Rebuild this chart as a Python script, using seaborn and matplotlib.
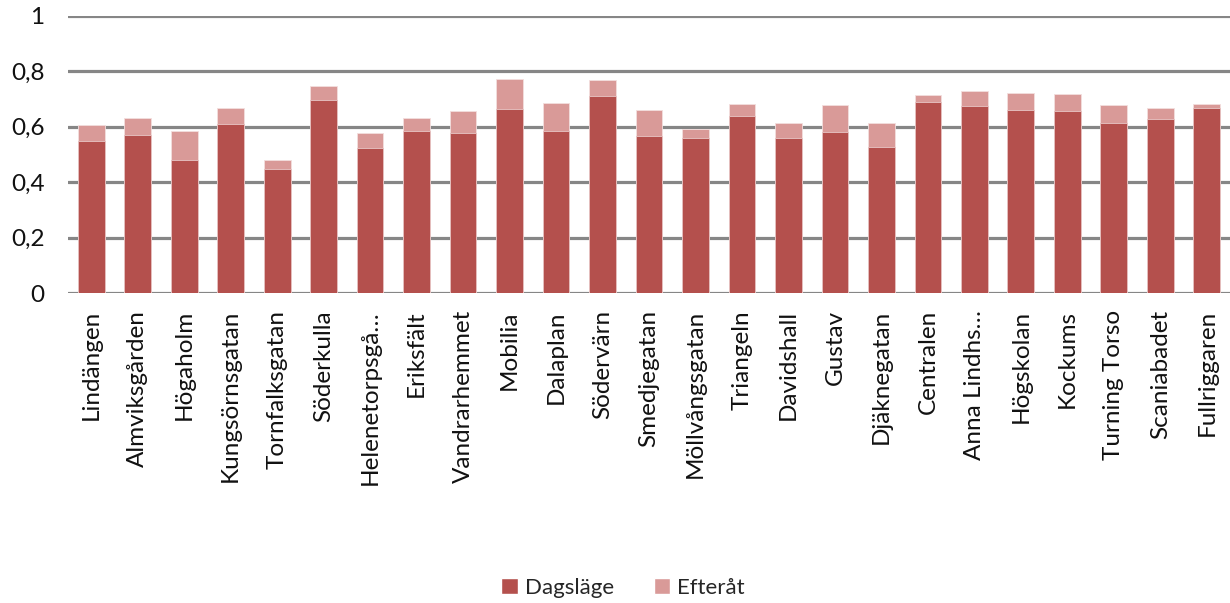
import matplotlib
matplotlib.use("Agg")
import matplotlib.pyplot as plt
import seaborn as sns
import pandas as pd
from matplotlib.patches import Patch
from matplotlib.ticker import FuncFormatter

stations = [
    "Lindängen", "Almviksgården", "Högaholm", "Kungsörnsgatan", "Tornfalksgatan",
    "Söderkulla", "Helenetorpsgå…", "Eriksfält", "Vandrarhemmet", "Mobilia",
    "Dalaplan", "Södervärn", "Smedjegatan", "Möllvångsgatan", "Triangeln",
    "Davidshall", "Gustav", "Djäknegatan", "Centralen", "Anna Lindhs…",
    "Högskolan", "Kockums", "Turning Torso", "Scaniabadet", "Fullriggaren",
]
dagslage = [
    0.549, 0.571, 0.481, 0.610, 0.449, 0.697, 0.523, 0.586, 0.579, 0.665,
    0.585, 0.711, 0.568, 0.558, 0.638, 0.559, 0.581, 0.527, 0.689, 0.675,
    0.661, 0.658, 0.613, 0.627, 0.667,
]
efterat = [
    0.056, 0.059, 0.105, 0.056, 0.031, 0.051, 0.054, 0.044, 0.079, 0.106,
    0.099, 0.057, 0.093, 0.034, 0.044, 0.053, 0.098, 0.085, 0.024, 0.055,
    0.059, 0.059, 0.066, 0.041, 0.015,
]
series_names = ["Dagsläge", "Efteråt"]

dark = "#B4504D"
light = "#D99A98"

df = pd.DataFrame({
    "station": stations,
    "dagslage": dagslage,
    "total": [a + b for a, b in zip(dagslage, efterat)],
})

sns.set_style("white")
plt.rcParams["font.family"] = ["Lato", "DejaVu Sans"]

fig = plt.figure(figsize=(12.30, 6.03), dpi=100)
ax = fig.add_axes([0.0553, 0.5135, 0.9447, 0.4605])

# stacked bars: full height in the light shade, base segment over it
sns.barplot(data=df, x="station", y="total", color=light, width=0.575,
            saturation=1, ax=ax, zorder=3, edgecolor="#f3dede", linewidth=0.6)
sns.barplot(data=df, x="station", y="dagslage", color=dark, width=0.575,
            saturation=1, ax=ax, zorder=4, edgecolor="#e8c6c5", linewidth=0.6)

ax.set_ylim(0, 1)
ax.set_xlim(-0.5, len(stations) - 0.5)
ax.set_yticks([0, 0.2, 0.4, 0.6, 0.8, 1.0])
ax.yaxis.set_major_formatter(
    FuncFormatter(lambda v, _: "0" if v == 0 else ("1" if v == 1 else f"{v:.1f}".replace(".", ",")))
)
ax.grid(axis="y", color="#868686", linewidth=2.3, zorder=0)
ax.set_axisbelow(True)
for s in ax.spines.values():
    s.set_visible(False)
ax.set_xlabel("")
ax.set_ylabel("")
ax.tick_params(axis="y", length=0, pad=17, labelsize=17.5, labelcolor="#111111")
ax.tick_params(axis="x", length=0, pad=12, labelsize=17.5, labelcolor="#111111")
plt.setp(ax.get_xticklabels(), rotation=90, ha="center", va="top")

handles = [Patch(facecolor=dark, label=series_names[0]),
           Patch(facecolor=light, label=series_names[1])]
fig.legend(handles=handles, loc="center", bbox_to_anchor=(0.5065, 0.025),
           ncol=2, frameon=False, fontsize=16, handlelength=0.75,
           handleheight=0.75, handletextpad=0.3, columnspacing=1.8)

fig.savefig("out.png", dpi=100)
